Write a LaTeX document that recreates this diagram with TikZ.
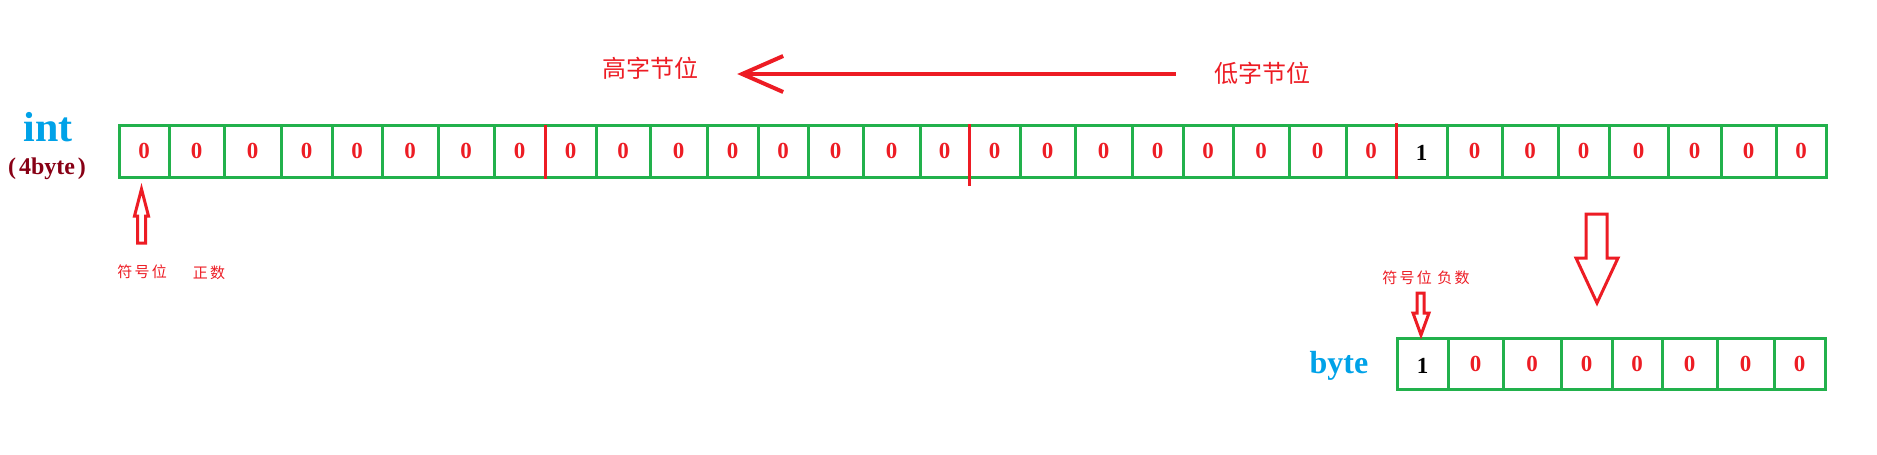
\documentclass[tikz,border=0pt]{standalone}
\usepackage{fontspec}
\setmainfont{Liberation Serif}
\newfontfamily\cjk{Noto Sans CJK SC}
\newfontfamily\cjkwide[LetterSpace=15]{Noto Sans CJK SC}
\usetikzlibrary{arrows.meta}
\definecolor{pgreen}{HTML}{22B14C}
\definecolor{pred}{HTML}{ED1C24}
\definecolor{pblue}{HTML}{00A2E8}
\definecolor{pmaroon}{HTML}{880015}
\begin{document}
\begin{tikzpicture}[x=1pt,y=-1pt,
 gridline/.style={draw=pgreen,line width=3pt},
 redsep/.style={draw=pred,line width=3pt},
 digit/.style={font=\fontsize{23}{23}\selectfont\bfseries,inner sep=0pt},
 zero/.style={digit,text=pred},
 one/.style={digit,text=black},
 cjklabel/.style={text=pred,font=\cjk\fontsize{24}{24}\selectfont,inner sep=0pt},
 smalllabel/.style={text=pred,font=\cjkwide\fontsize{15}{15}\selectfont,inner sep=0pt},
 hollow/.style={draw=pred,line width=3pt,line join=miter},
 toparrow/.style={draw=pred,line width=4pt,-{Straight Barb[length=41pt,width=36pt]}},
]
\useasboundingbox (0,0) rectangle (1877,455);
\fill[white] (0,0) rectangle (1877,455);

% labels
\node[text=pblue,font=\fontsize{42}{42}\selectfont\bfseries,inner sep=0pt] (int) at (48,127) {int};
\node[text=pmaroon,font=\fontsize{24}{24}\selectfont\bfseries,inner sep=0pt] (four) at (47,169) {(\kern3pt 4byte\kern3pt)};
\node[text=pblue,font=\fontsize{32}{32}\selectfont\bfseries,inner sep=0pt] (byte) at (1339,366) {byte};

% top row
\draw[gridline] (119,125) rectangle (1826,177);
\foreach \a/\b/\d [count=\i] in {119/169/0,169/224/0,224/281/0,281/332/0,332/382/0,382/438/0,438/494/0,494/545/0,
 545/596/0,596/650/0,650/707/0,707/758/0,758/808/0,808/863/0,863/920/0,920/969/0,
 969/1020/0,1020/1075/0,1075/1132/0,1132/1183/0,1183/1233/0,1233/1289/0,1289/1346/0,1346/1396/0,
 1396/1447/1,1447/1502/0,1502/1558/0,1558/1609/0,1609/1668/0,1668/1721/0,1721/1776/0,1776/1826/0}{
  \ifnum\d=1
    \node[one] (t\i) at ({(\a+\b)/2},153) {1};
  \else
    \node[zero] (t\i) at ({(\a+\b)/2},151) {0};
  \fi
  \ifnum\i<32 \draw[gridline] (\b,125) -- (\b,177); \fi
}
\draw[redsep] (545,125) -- (545,179);
\draw[redsep] (969,124) -- (969,186);
\draw[redsep] (1396,123) -- (1396,179);

% byte row
\draw[gridline] (1397,338) rectangle (1825,389);
\foreach \a/\b/\d [count=\i] in {1397/1448/1,1448/1503/0,1503/1561/0,1561/1612/0,1612/1662/0,1662/1717/0,1717/1774/0,1774/1825/0}{
  \ifnum\d=1
    \node[one] (b\i) at ({(\a+\b)/2},366) {1};
  \else
    \node[zero] (b\i) at ({(\a+\b)/2},364) {0};
  \fi
  \ifnum\i<8 \draw[gridline] (\b,338) -- (\b,389); \fi
}

% top text and arrow
\node[cjklabel] (hi) at (650,68) {高字节位};
\node[cjklabel] (lo) at (1262,73) {低字节位};
\draw[toparrow,shorten <=38pt,shorten >=39pt] ([yshift=-1pt]lo.west) -- ([yshift=-1pt]lo.west -| hi.east);

% sign labels
\node[smalllabel] (sign1) at (142,272) {符号位};
\node[smalllabel] (pos) at (209,273) {正数};
\node[smalllabel] (sign2) at (1426,278) {符号位 负数};

% hollow arrows
\draw[hollow] (141.5,189) -- (148.5,216) -- (145.5,216) -- (145.5,243) -- (137.5,243) -- (137.5,216) -- (134.5,216) -- cycle;
\draw[hollow] (1586,214) -- (1607,214) -- (1607,258) -- (1618,258) -- (1597,303) -- (1576,258) -- (1586,258) -- cycle;
\draw[hollow] (1417,293) -- (1424,293) -- (1424,313) -- (1429,313) -- (1421,335) -- (1413,313) -- (1417,313) -- cycle;
\end{tikzpicture}
\end{document}
